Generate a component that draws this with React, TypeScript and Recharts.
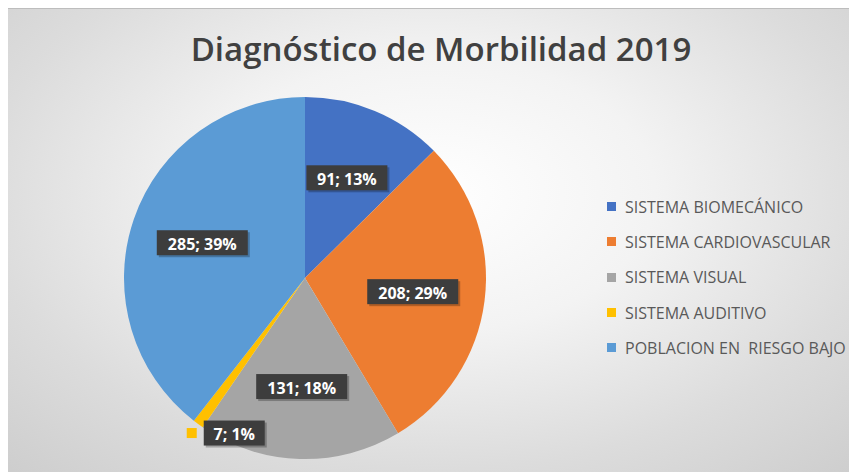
import { PieChart, Pie, Cell, Legend } from "recharts";

const categories = [
  "SISTEMA BIOMECÁNICO",
  "SISTEMA CARDIOVASCULAR",
  "SISTEMA VISUAL",
  "SISTEMA AUDITIVO",
  "POBLACION EN  RIESGO BAJO",
];
const values = [91, 208, 131, 7, 285];
const percentLabels = ["13%", "29%", "18%", "1%", "39%"];
const colors = ["#4472C4", "#ED7D31", "#A5A5A5", "#FFC000", "#5B9BD5"];

const data = categories.map((name, i) => ({ name, value: values[i] }));

const RAD = Math.PI / 180;

function renderLabel(props: any) {
  const { cx, cy, midAngle, outerRadius, index, percent } = props;
  const text = `${values[index]}; ${percentLabels[index]}`;
  const w = text.length * 10 + 11;
  const h = 25;
  const cos = Math.cos(-midAngle * RAD);
  const sin = Math.sin(-midAngle * RAD);

  if (percent < 0.05) {
    // small slice: label outside with legend key
    const r = outerRadius + 11;
    const kx = cx + r * cos;
    const ky = cy + r * sin;
    const bx = kx + 12;
    return (
      <g>
        <rect x={kx - 5} y={ky - 5} width={10} height={10} fill={colors[index]} />
        <rect x={bx + 2} y={ky - h / 2 + 2} width={w} height={h} fill="#000" opacity={0.25} />
        <rect x={bx} y={ky - h / 2} width={w} height={h} fill="#3d3d3d" />
        <text
          x={bx + w / 2}
          y={ky + 1}
          fill="#fff"
          fontSize={16}
          fontWeight={700}
          fontFamily="'Open Sans', sans-serif"
          textAnchor="middle"
          dominantBaseline="central"
        >
          {text}
        </text>
      </g>
    );
  }

  const r = outerRadius * 0.6;
  const x = cx + r * cos;
  const y = cy + r * sin;
  return (
    <g>
      <rect x={x - w / 2 + 2} y={y - h / 2 + 2} width={w} height={h} fill="#000" opacity={0.25} />
      <rect x={x - w / 2} y={y - h / 2} width={w} height={h} fill="#3d3d3d" />
      <text
        x={x}
        y={y + 1}
        fill="#fff"
        fontSize={16}
        fontWeight={700}
        fontFamily="'Open Sans', sans-serif"
        textAnchor="middle"
        dominantBaseline="central"
      >
        {text}
      </text>
    </g>
  );
}

// legend in series order, built from the arrays
function LegendContent() {
  return (
    <div>
      {categories.map((name, i) => (
        <div
          key={name}
          style={{ display: "flex", alignItems: "center", height: 35.3 }}
        >
          <span
            style={{
              display: "inline-block",
              width: 9,
              height: 9,
              background: colors[i],
              marginRight: 9,
            }}
          />
          <span
            style={{
              fontFamily: "'Open Sans', sans-serif",
              fontSize: 16,
              color: "#595959",
              whiteSpace: "pre",
            }}
          >
            {name}
          </span>
        </div>
      ))}
    </div>
  );
}

export default function App() {
  return (
    <div
      style={{
        position: "relative",
        width: 849,
        height: 464,
        borderTop: "1px solid #bdbdbd",
        boxSizing: "border-box",
        background:
          "radial-gradient(ellipse 75% 85% at 50% 40%, #ffffff 0%, #f3f3f3 35%, #dcdcdc 70%, #cccccc 100%)",
        overflow: "hidden",
      }}
    >
      <div
        style={{
          position: "absolute",
          left: 0,
          top: 17,
          width: 866,
          textAlign: "center",
          fontFamily: "'Open Sans', sans-serif",
          fontWeight: 600,
          fontSize: 33,
          color: "#404040",
        }}
      >
        Diagnóstico de Morbilidad 2019
      </div>
      <PieChart width={849} height={463} style={{ position: "absolute", left: 0, top: 0 }}>
        <Pie
          data={data}
          dataKey="value"
          nameKey="name"
          cx={292}
          cy={264}
          outerRadius={181}
          startAngle={90}
          endAngle={-270}
          stroke="none"
          label={renderLabel}
          labelLine={false}
          isAnimationActive={false}
        >
          {data.map((d, i) => (
            <Cell key={d.name} fill={colors[i]} />
          ))}
        </Pie>
        <Legend
          layout="vertical"
          content={<LegendContent />}
          wrapperStyle={{ left: 599, top: 180, width: 250 }}
        />
      </PieChart>
    </div>
  );
}
